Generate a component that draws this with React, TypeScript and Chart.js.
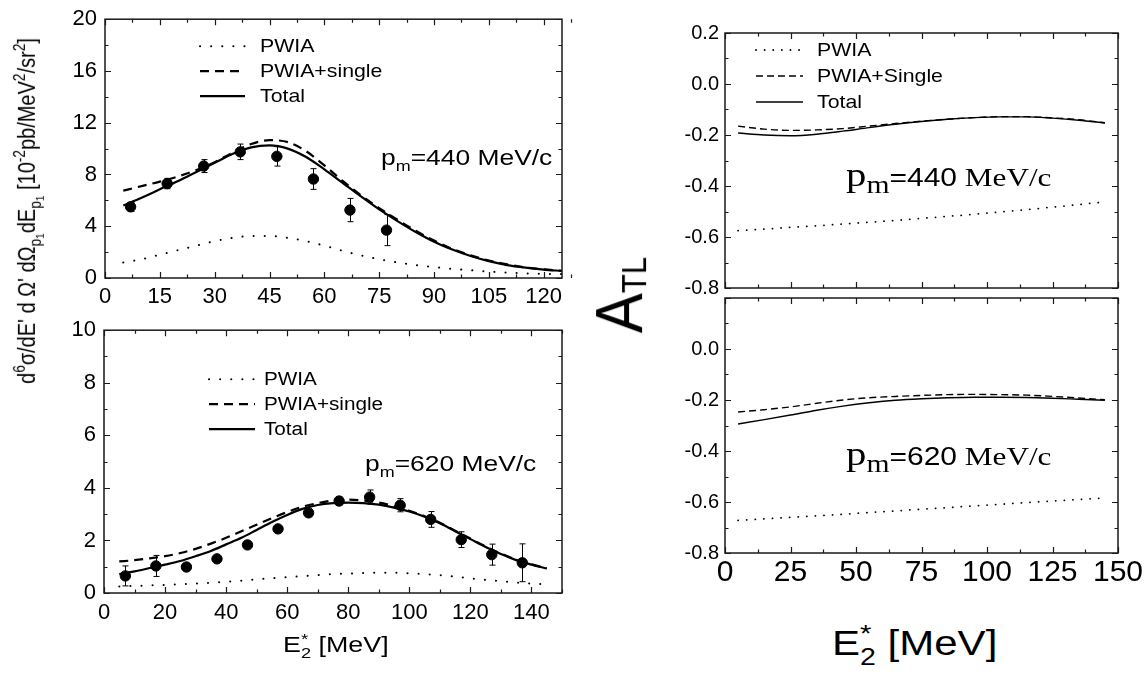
import React, { useEffect, useRef } from 'react';
import { Chart, registerables } from 'chart.js';

Chart.register(...registerables);

const SANS = "'Liberation Sans', Arial, Helvetica, sans-serif";
const SERIF = "'Liberation Serif', 'Times New Roman', Times, serif";

// ---------- Upper left: cross section, p_m = 440 MeV/c ----------
const cs440X = [5, 10, 15, 20, 25, 30, 35, 40, 45, 50, 55, 60, 65, 70, 75, 80, 85, 90, 95, 100, 105, 110, 115, 120, 125];
const cs440Pwia = [1.2, 1.45, 1.8, 2.15, 2.5, 2.85, 3.1, 3.25, 3.25, 3.1, 2.85, 2.5, 2.1, 1.75, 1.45, 1.2, 1.0, 0.85, 0.7, 0.6, 0.5, 0.42, 0.36, 0.32, 0.3];
const cs440Single = [6.75, 7.1, 7.45, 7.85, 8.35, 8.95, 9.7, 10.35, 10.65, 10.5, 9.8, 8.7, 7.5, 6.4, 5.4, 4.5, 3.65, 2.9, 2.25, 1.75, 1.35, 1.05, 0.82, 0.66, 0.56];
const cs440Total = [5.6, 6.2, 6.85, 7.5, 8.2, 8.9, 9.6, 10.1, 10.25, 10.0, 9.35, 8.4, 7.35, 6.3, 5.3, 4.4, 3.55, 2.8, 2.2, 1.7, 1.3, 1.0, 0.8, 0.65, 0.55];
const cs440DataX = [7, 17, 27, 37, 47, 57, 67, 77];
const cs440DataY = [5.5, 7.3, 8.65, 9.75, 9.4, 7.65, 5.25, 3.7];
const cs440DataErr = [0.35, 0.4, 0.5, 0.6, 0.75, 0.8, 0.9, 1.2];

// ---------- Lower left: cross section, p_m = 620 MeV/c ----------
const cs620X = [5, 10, 15, 20, 25, 30, 35, 40, 45, 50, 55, 60, 65, 70, 75, 80, 85, 90, 95, 100, 105, 110, 115, 120, 125, 130, 135, 140, 145];
const cs620Pwia = [0.25, 0.27, 0.29, 0.31, 0.33, 0.36, 0.39, 0.43, 0.47, 0.52, 0.56, 0.6, 0.64, 0.68, 0.72, 0.74, 0.76, 0.77, 0.77, 0.75, 0.72, 0.68, 0.62, 0.56, 0.5, 0.45, 0.4, 0.36, 0.33];
const cs620Single = [1.2, 1.25, 1.32, 1.4, 1.52, 1.68, 1.88, 2.1, 2.35, 2.6, 2.85, 3.08, 3.28, 3.42, 3.52, 3.55, 3.52, 3.44, 3.3, 3.13, 2.92, 2.67, 2.37, 2.07, 1.77, 1.5, 1.27, 1.09, 0.94];
const cs620Total = [0.72, 0.82, 0.95, 1.08, 1.22, 1.4, 1.6, 1.85, 2.1, 2.4, 2.7, 2.97, 3.2, 3.35, 3.42, 3.44, 3.42, 3.36, 3.25, 3.1, 2.9, 2.65, 2.35, 2.05, 1.75, 1.48, 1.25, 1.08, 0.93];
const cs620DataX = [7, 17, 27, 37, 47, 57, 67, 77, 87, 97, 107, 117, 127, 137];
const cs620DataY = [0.65, 1.03, 0.99, 1.3, 1.83, 2.44, 3.05, 3.5, 3.65, 3.34, 2.8, 2.03, 1.46, 1.15];
const cs620DataErr = [0.38, 0.4, 0.1, 0.08, 0.1, 0.1, 0.12, 0.15, 0.27, 0.25, 0.3, 0.3, 0.4, 0.72];

// ---------- Right: A_TL ----------
const atlX = [5, 15, 25, 35, 45, 55, 65, 75, 85, 95, 105, 115, 125, 135, 145];
const atl440Pwia = [-0.575, -0.569, -0.562, -0.556, -0.549, -0.542, -0.535, -0.527, -0.519, -0.511, -0.502, -0.493, -0.483, -0.473, -0.462];
const atl440Single = [-0.165, -0.177, -0.182, -0.18, -0.175, -0.165, -0.155, -0.146, -0.138, -0.132, -0.128, -0.128, -0.133, -0.14, -0.152];
const atl440Total = [-0.192, -0.2, -0.203, -0.197, -0.185, -0.171, -0.158, -0.147, -0.138, -0.132, -0.129, -0.129, -0.134, -0.142, -0.153];
const atl620Pwia = [-0.672, -0.666, -0.66, -0.654, -0.648, -0.641, -0.635, -0.628, -0.622, -0.615, -0.609, -0.602, -0.596, -0.59, -0.584];
const atl620Single = [-0.247, -0.238, -0.227, -0.213, -0.2, -0.191, -0.186, -0.182, -0.179, -0.178, -0.179, -0.181, -0.186, -0.192, -0.199];
const atl620Total = [-0.294, -0.277, -0.259, -0.24, -0.224, -0.211, -0.201, -0.195, -0.191, -0.189, -0.189, -0.19, -0.193, -0.197, -0.201];

const LEGEND_LEFT = ['PWIA', 'PWIA+single', 'Total'];
const LEGEND_RIGHT = ['PWIA', 'PWIA+Single', 'Total'];

type Area = { l: number; t: number; r: number; b: number };
type Panel = {
  area: Area;
  xMin: number; xMax: number; xMajor: number; xMinor: number;
  yMin: number; yMax: number; yMajor: number; yMinor: number;
  showX: boolean; xFont: number; yFont: number; xPad: number; yPad: number;
  yDecimals: number; yHideAbove?: number;
  curveX: number[]; pwia: number[]; single: number[]; total: number[];
  dataX?: number[]; dataY?: number[]; dataErr?: number[];
  names: string[];
  lw: number; dotW: number; dash: number[]; dot: number[];
  legend?: { x: number; y0: number; dy: number; len: number; textX: number; size: number; sx: number };
};

const PAD_T = 20, PAD_R = 32, Y_W = 70, X_H = 45;

const PANELS: Panel[] = [
  {
    area: { l: 105, t: 18, r: 562, b: 278 },
    xMin: 0, xMax: 125, xMajor: 15, xMinor: 7.5, yMin: 0, yMax: 20, yMajor: 4, yMinor: 2,
    showX: true, xFont: 22, yFont: 22, xPad: 6, yPad: 8, yDecimals: 0,
    curveX: cs440X, pwia: cs440Pwia, single: cs440Single, total: cs440Total,
    dataX: cs440DataX, dataY: cs440DataY, dataErr: cs440DataErr,
    names: LEGEND_LEFT, lw: 2.2, dotW: 2, dash: [9, 6], dot: [0.1, 11],
    legend: { x: 95, y0: 27, dy: 25, len: 45, textX: 155, size: 18.5, sx: 1.15 },
  },
  {
    area: { l: 104, t: 329, r: 562, b: 593 },
    xMin: 0, xMax: 150, xMajor: 20, xMinor: 10, yMin: 0, yMax: 10, yMajor: 2, yMinor: 1,
    showX: true, xFont: 22, yFont: 22, xPad: 7, yPad: 8, yDecimals: 0,
    curveX: cs620X, pwia: cs620Pwia, single: cs620Single, total: cs620Total,
    dataX: cs620DataX, dataY: cs620DataY, dataErr: cs620DataErr,
    names: LEGEND_LEFT, lw: 2.2, dotW: 2, dash: [9, 6], dot: [0.1, 11],
    legend: { x: 105, y0: 49, dy: 25, len: 46, textX: 160, size: 18, sx: 1.15 },
  },
  {
    area: { l: 725, t: 33, r: 1118, b: 288 },
    xMin: 0, xMax: 150, xMajor: 25, xMinor: 12.5, yMin: -0.8, yMax: 0.2, yMajor: 0.2, yMinor: 0.1,
    showX: false, xFont: 30, yFont: 20, xPad: 2, yPad: 6, yDecimals: 1,
    curveX: atlX, pwia: atl440Pwia, single: atl440Single, total: atl440Total,
    names: LEGEND_RIGHT, lw: 1.4, dotW: 1.8, dash: [7, 4], dot: [0.1, 8.5],
    legend: { x: 31, y0: 17, dy: 26, len: 47, textX: 92, size: 18.5, sx: 1.15 },
  },
  {
    area: { l: 725, t: 298, r: 1118, b: 553 },
    xMin: 0, xMax: 150, xMajor: 25, xMinor: 12.5, yMin: -0.8, yMax: 0.2, yMajor: 0.2, yMinor: 0.1,
    showX: true, xFont: 30, yFont: 20, xPad: 2, yPad: 6, yDecimals: 1, yHideAbove: 0.1,
    curveX: atlX, pwia: atl620Pwia, single: atl620Single, total: atl620Total,
    names: LEGEND_RIGHT, lw: 1.4, dotW: 1.8, dash: [7, 4], dot: [0.1, 8.5],
  },
];

function canvasBox(p: Panel) {
  const left = p.area.l - Y_W;
  const top = p.area.t - PAD_T;
  return { left, top, width: p.area.r + PAD_R - left, height: p.area.b + X_H - top };
}

function framePlugin(p: Panel) {
  return {
    id: 'frameTicks',
    afterDatasetsDraw(chart: any) {
      const { ctx, chartArea: a, scales } = chart;
      const xs = scales.x, ys = scales.y;
      ctx.save();
      ctx.strokeStyle = '#1a1a1a';
      ctx.lineWidth = 1.2;
      ctx.setLineDash([]);
      ctx.beginPath();
      const nx = Math.round((p.xMax - p.xMin) / p.xMinor);
      for (let i = 0; i <= nx; i++) {
        const v = p.xMin + i * p.xMinor;
        const r = v / p.xMajor;
        const len = Math.abs(r - Math.round(r)) < 1e-6 ? 6 : 3.5;
        const px = Math.round(xs.getPixelForValue(v)) + 0.5;
        ctx.moveTo(px, a.bottom); ctx.lineTo(px, a.bottom - len);
        ctx.moveTo(px, a.top); ctx.lineTo(px, a.top + len);
      }
      const ny = Math.round((p.yMax - p.yMin) / p.yMinor);
      for (let i = 0; i <= ny; i++) {
        const v = p.yMin + i * p.yMinor;
        const r = v / p.yMajor;
        const len = Math.abs(r - Math.round(r)) < 1e-6 ? 6 : 3.5;
        const py = Math.round(ys.getPixelForValue(v)) + 0.5;
        ctx.moveTo(a.left, py); ctx.lineTo(a.left + len, py);
        ctx.moveTo(a.right, py); ctx.lineTo(a.right - len, py);
      }
      ctx.stroke();
      ctx.lineWidth = 1.5;
      ctx.strokeRect(a.left, a.top, a.right - a.left, a.bottom - a.top);
      ctx.restore();
    },
  };
}

function errorBarPlugin() {
  return {
    id: 'errorBars',
    afterDatasetsDraw(chart: any) {
      const { ctx } = chart;
      const ys = chart.scales.y;
      chart.data.datasets.forEach((ds: any, di: number) => {
        if (!ds.errors) return;
        const meta = chart.getDatasetMeta(di);
        ctx.save();
        ctx.strokeStyle = '#000';
        ctx.lineWidth = 1;
        ctx.setLineDash([]);
        meta.data.forEach((pt: any, i: number) => {
          const raw = ds.data[i];
          const e = ds.errors[i];
          const x = Math.round(pt.x) + 0.5;
          const y1 = ys.getPixelForValue(raw.y + e);
          const y2 = ys.getPixelForValue(raw.y - e);
          ctx.beginPath();
          ctx.moveTo(x, y1); ctx.lineTo(x, y2);
          ctx.moveTo(x - 3, y1); ctx.lineTo(x + 3, y1);
          ctx.moveTo(x - 3, y2); ctx.lineTo(x + 3, y2);
          ctx.stroke();
        });
        ctx.restore();
      });
    },
  };
}

function legendPlugin(p: Panel) {
  return {
    id: 'inLegend',
    afterDatasetsDraw(chart: any) {
      const lg = p.legend;
      if (!lg) return;
      const { ctx, chartArea: a } = chart;
      ctx.save();
      for (let k = 0; k < 3; k++) {
        const ds = chart.data.datasets[k];
        const y = a.top + lg.y0 + k * lg.dy;
        ctx.strokeStyle = '#000';
        ctx.lineWidth = ds.borderWidth;
        ctx.lineCap = ds.borderCapStyle || 'butt';
        ctx.setLineDash(ds.borderDash || []);
        ctx.beginPath();
        ctx.moveTo(a.left + lg.x, y);
        ctx.lineTo(a.left + lg.x + lg.len, y);
        ctx.stroke();
        ctx.setLineDash([]);
        ctx.fillStyle = '#000';
        ctx.font = `${lg.size}px ${SANS}`;
        ctx.textBaseline = 'middle';
        ctx.textAlign = 'left';
        ctx.save();
        ctx.translate(a.left + lg.textX, y + 1);
        ctx.scale(lg.sx, 1);
        ctx.fillText(ds.label, 0, 0);
        ctx.restore();
      }
      ctx.restore();
    },
  };
}

function buildConfig(p: Panel): any {
  const pts = (ys: number[]) => p.curveX.map((x, i) => ({ x, y: ys[i] }));
  const datasets: any[] = [
    { label: p.names[0], data: pts(p.pwia), borderColor: '#000', borderWidth: p.dotW, borderDash: p.dot, borderCapStyle: 'round', pointRadius: 0, fill: false, cubicInterpolationMode: 'monotone' },
    { label: p.names[1], data: pts(p.single), borderColor: '#000', borderWidth: p.lw, borderDash: p.dash, borderCapStyle: 'butt', pointRadius: 0, fill: false, cubicInterpolationMode: 'monotone' },
    { label: p.names[2], data: pts(p.total), borderColor: '#000', borderWidth: p.lw, borderDash: [], borderCapStyle: 'butt', pointRadius: 0, fill: false, cubicInterpolationMode: 'monotone' },
  ];
  if (p.dataX && p.dataY) {
    datasets.push({
      label: 'data',
      data: p.dataX.map((x, i) => ({ x, y: p.dataY![i] })),
      errors: p.dataErr,
      showLine: false,
      pointRadius: 5.2,
      pointHoverRadius: 5.2,
      pointBackgroundColor: '#000',
      pointBorderColor: '#000',
      borderColor: '#000',
    });
  }
  return {
    type: 'line',
    data: { datasets },
    plugins: [errorBarPlugin(), framePlugin(p), legendPlugin(p)],
    options: {
      responsive: false,
      animation: false,
      events: [],
      layout: { padding: { top: PAD_T, right: PAD_R, left: 0, bottom: 0 } },
      plugins: { legend: { display: false }, tooltip: { enabled: false } },
      scales: {
        x: {
          type: 'linear', min: p.xMin, max: p.xMax,
          grid: { display: false, drawTicks: false },
          border: { display: false },
          ticks: {
            display: p.showX, stepSize: p.xMajor, includeBounds: false, autoSkip: false, maxRotation: 0,
            padding: p.xPad, color: '#000', font: { family: SANS, size: p.xFont },
            callback: (v: number) => String(Math.round(v)),
          },
          afterFit: (s: any) => { s.height = X_H; },
        },
        y: {
          type: 'linear', min: p.yMin, max: p.yMax,
          grid: { display: false, drawTicks: false },
          border: { display: false },
          ticks: {
            stepSize: p.yMajor, includeBounds: false, autoSkip: false,
            padding: p.yPad, color: '#000', font: { family: SANS, size: p.yFont },
            callback: (v: number) => {
              if (p.yHideAbove !== undefined && v > p.yHideAbove) return '';
              if (Math.abs(v) < 1e-9) return p.yDecimals ? (0).toFixed(p.yDecimals) : '0';
              return v.toFixed(p.yDecimals);
            },
          },
          afterFit: (s: any) => { s.width = Y_W; },
        },
      },
    },
  };
}

const Sub = ({ children, s = 0.68, d = 0.4 }: any) => (
  <span style={{ fontSize: `${s}em`, verticalAlign: `${-d}em`, lineHeight: 0 }}>{children}</span>
);
const Sup = ({ children, s = 0.68, d = 0.62 }: any) => (
  <span style={{ fontSize: `${s}em`, verticalAlign: `${d}em`, lineHeight: 0 }}>{children}</span>
);
const StarOver = () => (
  <span style={{ display: 'inline-block', width: 0, fontSize: '0.7em', verticalAlign: '0.55em', lineHeight: 0, overflow: 'visible' }}>*</span>
);

function Txt({ x, base, size, family = SANS, sx = 1, children }: any) {
  return (
    <div style={{ position: 'absolute', left: x, top: base - 0.85 * size, fontSize: size, fontFamily: family, lineHeight: 1, whiteSpace: 'nowrap', color: '#000', transform: `scaleX(${sx})`, transformOrigin: 'left center' }}>
      {children}
    </div>
  );
}

function RotTxt({ cx, cy, size, family = SANS, sy = 1, children }: any) {
  return (
    <div style={{ position: 'absolute', left: cx, top: cy, transform: `translate(-50%, -50%) rotate(-90deg) scale(1, ${sy})`, fontSize: size, fontFamily: family, lineHeight: 1.3, whiteSpace: 'nowrap', color: '#000' }}>
      {children}
    </div>
  );
}

export default function App() {
  const refs = useRef<(HTMLCanvasElement | null)[]>([]);
  useEffect(() => {
    const charts = PANELS.map((p, i) => new Chart(refs.current[i] as HTMLCanvasElement, buildConfig(p)));
    return () => charts.forEach((c) => c.destroy());
  }, []);

  return (
    <div style={{ position: 'absolute', left: 0, top: 0, width: 1148, height: 675, background: '#fff', overflow: 'hidden' }}>
      {PANELS.map((p, i) => {
        const b = canvasBox(p);
        return (
          <canvas
            key={i}
            ref={(el) => { refs.current[i] = el; }}
            width={b.width}
            height={b.height}
            style={{ position: 'absolute', left: b.left, top: b.top, width: b.width, height: b.height }}
          />
        );
      })}

      {/* left y-axis title */}
      <RotTxt cx={27} cy={211} size={20} sy={1.15}>
        d<Sup>6</Sup>σ/dE' d Ω' dΩ<Sub>p<Sub s={0.75} d={0.3}>1</Sub></Sub>dE<Sub>p<Sub s={0.75} d={0.3}>1</Sub></Sub> [10<Sup>-2</Sup>pb/MeV<Sup>2</Sup>/sr<Sup>2</Sup>]
      </RotTxt>

      {/* A_TL title */}
      <RotTxt cx={620} cy={295} size={60} sy={1.1}>
        A<Sub s={0.52} d={0.12}>TL</Sub>
      </RotTxt>

      {/* p_m annotations, left */}
      <Txt x={381} base={166} size={22} sx={1.2}>p<Sub>m</Sub>=440 MeV/c</Txt>
      <Txt x={365} base={472} size={22} sx={1.2}>p<Sub>m</Sub>=620 MeV/c</Txt>

      {/* p_m annotations, right */}
      <Txt x={846} base={187} size={26} family={SERIF} sx={1.2}>
        <span style={{ fontSize: 34, lineHeight: 0 }}>p</span><Sub s={0.95} d={0.3}>m</Sub><span style={{ fontFamily: SANS, fontSize: 25, lineHeight: 0 }}>=440</span> MeV/c
      </Txt>
      <Txt x={846} base={466} size={26} family={SERIF} sx={1.2}>
        <span style={{ fontSize: 34, lineHeight: 0 }}>p</span><Sub s={0.95} d={0.3}>m</Sub><span style={{ fontFamily: SANS, fontSize: 25, lineHeight: 0 }}>=620</span> MeV/c
      </Txt>

      {/* x-axis titles */}
      <Txt x={283} base={653} size={22} sx={1.22}>E<StarOver /><Sub>2</Sub> [MeV]</Txt>
      <Txt x={832} base={655} size={35} sx={1.2}>E<StarOver /><Sub>2</Sub> [MeV]</Txt>
    </div>
  );
}
